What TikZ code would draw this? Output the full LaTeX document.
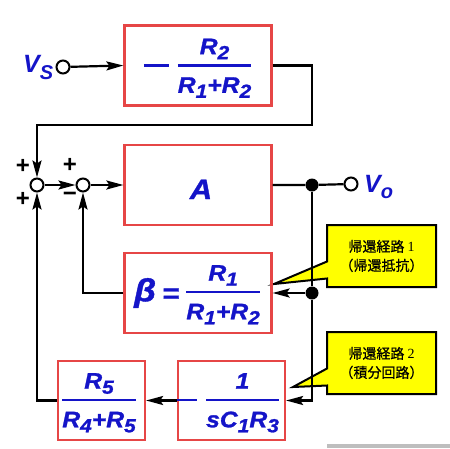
\documentclass[tikz,border=0pt]{standalone}
\usepackage{fontspec}
\setmainfont{Liberation Sans}
\newfontfamily\fml[FakeStretch=1.1,FakeBold=1.2]{Liberation Sans}
\newfontfamily\jp[FakeBold=0.6]{Noto Sans CJK JP}
\newfontfamily\jpnum{Liberation Serif}
\usetikzlibrary{arrows.meta,shapes.callouts}

\definecolor{fblue}{RGB}{20,20,200}
\definecolor{boxred}{RGB}{230,70,70}
\definecolor{noteyellow}{RGB}{255,255,0}
\definecolor{bargray}{RGB}{190,190,190}

% subscript, minus bar and stacked fraction for the block gains
\newcommand{\sub}[1]{\raisebox{-5pt}{\fontsize{19}{19}\selectfont #1}}
\newcommand{\mns}[1][25pt]{\rule[5.1pt]{#1}{2.8pt}}
\newcommand{\frc}[2]{%
  \setbox0=\hbox{#1}\setbox2=\hbox{#2}%
  \dp0=0pt \ht2=16pt
  \dimen0=\wd0 \ifdim\wd2>\dimen0 \dimen0=\wd2 \fi
  \lower20.8pt\vbox{\offinterlineskip
    \hbox to\dimen0{\hss\box0\hss}%
    \kern10pt\hrule height2.6pt\kern10pt
    \hbox to\dimen0{\hss\box2\hss}}}

\tikzset{
  blk/.style={draw=boxred, line width=2.2pt, minimum width=147pt, minimum height=80pt, inner sep=0pt},
  fml/.style={text=fblue, inner sep=0pt, anchor=base, font=\fml\bfseries\itshape\fontsize{22.5}{23}\selectfont},
  lbl/.style={text=fblue, inner sep=0pt, anchor=base west, font=\bfseries\itshape\fontsize{25}{25}\selectfont},
  sum/.style={circle, draw, line width=2pt, fill=white, minimum size=13pt, inner sep=0pt},
  dot/.style={circle, fill, minimum size=13pt, inner sep=0pt},
  wire/.style={line width=2.2pt},
  arr/.style={line width=2.2pt, -{Stealth[length=17pt,width=9pt,inset=3pt]}},
  sgn/.style={inner sep=0pt, font=\bfseries\fontsize{24}{24}\selectfont},
  note/.style={rectangle callout, draw, line width=2pt, fill=noteyellow, callout pointer width=17pt,
    minimum width=109pt, minimum height=62pt, align=center, font=\jp\fontsize{14}{19}\selectfont}
}

\begin{document}
\begin{tikzpicture}[x=1pt,y=-1pt]
\useasboundingbox (0,0) rectangle (450,448);
\fill[bargray] (327,444) rectangle (450,448);

% callouts
\node[note, callout absolute pointer={(274,284)}] (note1) at (381.5,256) {帰還経路 {\jpnum 1}\\（帰還抵抗）};
\node[note, callout absolute pointer={(293,387)}] (note2) at (381.5,363) {帰還経路 {\jpnum 2}\\（積分回路）};

% blocks
\node[blk] (div) at (198,65.5) {};
\node[blk] (amp) at (198,185) {};
\node[blk] (beta) at (198,293) {};
\node[blk, minimum width=87pt, minimum height=79pt] (att) at (101.5,400.5) {};
\node[blk, minimum width=107pt, minimum height=79pt] (integ) at (231.5,400.5) {};

\node[fml] (divf) at (197.5,72) {\mns\hspace{9pt}\frc{R\sub{2}}{R\sub{1}+R\sub{2}}};
\node[fml] (ampf) at (201,199) {\fontsize{28}{28}\selectfont A};
\node[fml] (betaf) at (197,298.5) {{\fontsize{32}{32}\selectfont\raisebox{-2.8pt}{β}}\hspace{6pt}{\fontsize{27}{27}\selectfont\raisebox{-4pt}{=}}\hspace{7pt}\frc{R\sub{1}}{R\sub{1}+R\sub{2}}};
\node[fml] (attf) at (99,406.5) {\frc{R\sub{5}}{R\sub{4}+R\sub{5}}};
\node[fml] (integf) at (227,406.5) {\mns[22pt]\hspace{9pt}\frc{1}{sC\sub{1}R\sub{3}}};

% terminals, summing points and junctions
\node[sum] (vs) at (63,67) {};
\node[sum] (vo) at (351,184) {};
\node[sum] (s1) at (37,185) {};
\node[sum] (s2) at (83,185) {};
\node[dot] (d1) at (312,185) {};
\node[dot] (d2) at (312,293) {};
\coordinate (tr) at (312,125);

\node[lbl] (vslbl) at (23,72) {V\raisebox{-7pt}{\fontsize{20}{20}\selectfont S}};
\node[lbl] (volbl) at (364,192) {V\raisebox{-6pt}{\fontsize{20}{20}\selectfont o}};

\node[sgn] (s1p) at (23,166) {+};
\node[sgn] (s1q) at (23,199) {+};
\node[sgn] (s2p) at (70,165) {+};
\node[sgn] (s2m) at (70,197) {−};

% signal paths
\draw[arr] (vs) -- (div.west);
\draw[arr] (div.east) -| (tr) -| (s1.north);
\draw[arr] (s1) -- (s2);
\draw[arr] (s2) -- (amp.west);
\draw[wire] (amp.east) -- (d1) -- (vo);
\draw[wire] (d1) -- (d2);
\draw[arr] (d2) -- (beta.east);
\draw[arr] (d2) |- (integ.east);
\draw[arr] (beta.west) -| (s2.south);
\draw[arr] (integ.west) -- (att.east);
\draw[arr] (att.west) -| (s1.south);
\end{tikzpicture}
\end{document}
